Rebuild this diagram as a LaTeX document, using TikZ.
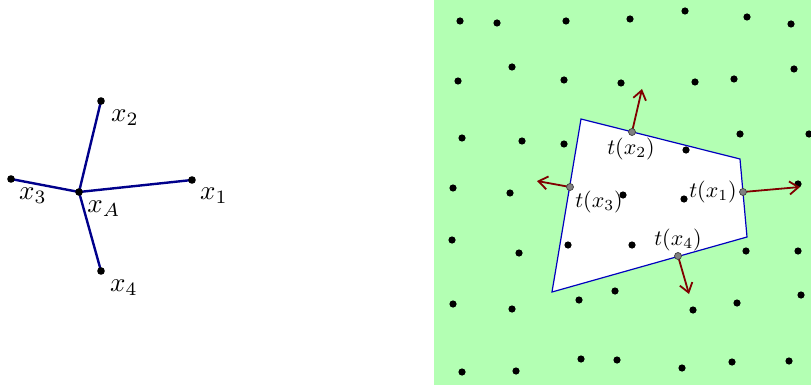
\documentclass[tikz,border=0pt]{standalone}
\usetikzlibrary{arrows.meta}
\definecolor{bggreen}{RGB}{179,255,179}
\definecolor{starblue}{RGB}{0,0,139}
\definecolor{polyblue}{RGB}{0,0,190}
\definecolor{arrred}{RGB}{128,0,0}
\begin{document}
\begin{tikzpicture}[x=1pt,y=-1pt,
  spoke/.style={starblue,line width=2.4pt},
  lbl/.style={inner sep=0pt,font=\normalsize,scale=2.7},
  tlbl/.style={inner sep=0pt,font=\normalsize,scale=2.2},
  outarrow/.style={arrred,line width=1.8pt,-{Straight Barb[length=9pt,width=13pt]}},
  hit/.style={fill=gray,draw=black!75,line width=0.7pt}]
\useasboundingbox (0,0) rectangle (811,385);
% ---------- left: star ----------
\coordinate (xA) at (79,192);
\coordinate (x1) at (192,180);
\coordinate (x2) at (101,101);
\coordinate (x3) at (11,179);
\coordinate (x4) at (101,271);
\foreach \p in {x1,x2,x3,x4} \draw[spoke] (xA) -- (\p);
\foreach \p in {xA,x1,x2,x3,x4} \fill (\p) circle (3.8pt);
\node[lbl] (lx2) at (125,118) {$x_2$};
\node[lbl] (lx1) at (214,196) {$x_1$};
\node[lbl] (lx3) at (33,196) {$x_3$};
\node[lbl] (lxA) at (104,209) {$x_A$};
\node[lbl] (lx4) at (124,288) {$x_4$};
% ---------- right: background ----------
\fill[bggreen] (434,0) rectangle (811,385);
\coordinate (p1) at (581,119);
\coordinate (p2) at (740,159);
\coordinate (p3) at (747,237);
\coordinate (p4) at (552,292);
\filldraw[fill=white,draw=polyblue,line width=1.2pt] (p1) -- (p2) -- (p3) -- (p4) -- cycle;
\foreach \x/\y in {460/21,497/23,566/21,630/19,685/11,747/17,791/24,
  512/67,458/81,564/80,621/83,695/82,734/79,794/69,
  462/138,522/141,564/144,686/150,740/134,809/134,
  453/188,510/193,623/195,684/199,798/184,
  452/240,519/253,568/245,632/245,746/251,798/251,
  453/304,512/309,579/300,615/291,693/310,737/303,801/295,
  462/372,516/371,581/359,617/360,682/368,732/362,789/361}
  \fill (\x,\y) circle (3.6pt);
\coordinate (t1) at (743,192);
\coordinate (t2) at (632,132);
\coordinate (t3) at (570,187);
\coordinate (t4) at (678,256);
\coordinate (e1) at (800,187);
\coordinate (e2) at (642,89);
\coordinate (e3) at (537,181);
\coordinate (e4) at (689,294);
\foreach \i in {1,2,3,4} \draw[outarrow] (t\i) -- (e\i);
\foreach \i in {1,2,3,4} \filldraw[hit] (t\i) circle (3.5pt);
\node[tlbl] (lt2) at (631,149) {$t(x_2)$};
\node[tlbl] (lt3) at (599,202) {$t(x_3)$};
\node[tlbl] (lt1) at (713,192) {$t(x_1)$};
\node[tlbl] (lt4) at (678,240) {$t(x_4)$};
\end{tikzpicture}
\end{document}
